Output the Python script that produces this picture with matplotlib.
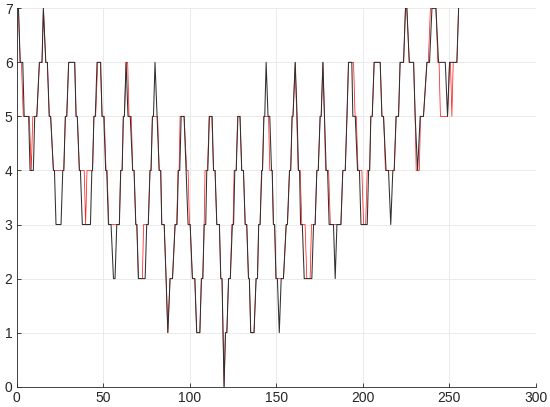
import matplotlib
matplotlib.use("Agg")
import matplotlib.pyplot as plt

# --- data (vertices of the two step traces) ---
black_x = [0, 1, 2, 3.5, 4.3, 6.9, 7.7, 9.6, 10.4, 11.6, 13.1, 14.6, 15.4, 16.8, 17.7,
           18.8, 19.6, 21.2, 21.8, 22.7, 25.6, 26.6, 27.2, 28.1, 28.9, 30, 33.5, 34.3,
           35, 36.2, 36.8, 37.9, 42.6, 43.4, 43.8, 44.6, 45.4, 46.4, 48.5, 49.3, 50.3,
           51.4, 52, 53, 54.5, 55.9, 56.8, 57.8, 59.3, 60.1, 60.9, 61.6, 62.2, 63.2,
           64.3, 65.6, 67, 67.8, 68.8, 69.4, 70.3, 74.2, 75.1, 76, 77, 77.6, 78.4, 79,
           79.9, 82.3, 83.2, 83.8, 85.2, 86.3, 87.3, 88.6, 90, 91.5, 92.6, 93.4, 94.2,
           95, 96.7, 99, 100.2, 101.5, 102.9, 104, 105.8, 106.7, 107.5, 108.3, 109.2,
           109.8, 110.4, 111.3, 112.9, 113.7, 114.6, 115.6, 117.1, 117.9, 118.6, 119.8,
           120.6, 121.4, 122.4, 123.4, 124.6, 125.3, 126, 126.8, 127.8, 129, 130, 131,
           132, 132.9, 133.9, 134.4, 135.2, 137.1, 138.3, 139.1, 139.8, 140.6, 141.6,
           142, 142.8, 143.3, 144.1, 145.2, 146.2, 147.2, 147.6, 148.3, 149, 149.8,
           150.6, 151.7, 152.8, 154.1, 155.7, 156.4, 157.6, 158.3, 159.1, 159.6, 160.9,
           162, 162.8, 163.4, 164, 165, 166.1, 170.5, 171.5, 172.4, 173.4, 174.2, 175.3,
           175.9, 176.9, 177.8, 178.8, 179.6, 180.5, 183, 184, 185, 187.3, 188.4, 189.8,
           190.8, 191.7, 193.6, 194.2, 195.6, 196.9, 198, 198.9, 202.5, 203.3, 203.9,
           204.6, 205.4, 206.5, 210, 211, 211.9, 213.4, 214.8, 216.1, 217.3, 218.1,
           219.2, 220.6, 221.5, 223.5, 224.6, 225.4, 226.8, 229.3, 230.2, 231.6, 233.1,
           235, 237, 238.5, 239.9, 242.2, 243.7, 247.6, 248.9, 250.1, 254.3, 255.3]
black_y = [7, 7, 6, 6, 5, 5, 4, 4, 5, 5, 6, 6, 7, 6, 6,
           5, 5, 4, 4, 3, 3, 4, 4, 5, 5, 6, 6, 5,
           5, 4, 4, 3, 3, 4, 4, 5, 5, 6, 6, 5, 5,
           4, 4, 3, 3, 2, 2, 3, 3, 4, 4, 5, 5, 6,
           5, 5, 4, 4, 3, 3, 2, 2, 3, 3, 4, 4, 5, 5,
           6, 4, 4, 3, 3, 2, 1, 2, 2, 3, 3, 4, 4,
           5, 5, 3, 3, 2, 2, 1, 1, 2, 2, 3, 3,
           4, 4, 5, 5, 4, 4, 3, 3, 2, 2, 0,
           1, 1, 2, 2, 3, 3, 4, 4, 5, 5, 4, 4,
           3, 3, 2, 2, 1, 1, 2, 2, 3, 3, 4,
           4, 5, 5, 6, 5, 5, 4, 4, 3, 3, 2,
           2, 1, 2, 2, 3, 3, 4, 4, 5, 5, 6,
           5, 4, 4, 3, 3, 2, 2, 3, 3, 4, 4, 5,
           5, 6, 5, 4, 4, 3, 3, 2, 3, 3, 4, 4,
           5, 6, 6, 5, 5, 4, 4, 3, 3, 4, 4,
           5, 5, 6, 6, 5, 5, 4, 4, 3, 4, 4,
           5, 5, 6, 6, 7, 7, 6, 6, 5, 4, 5,
           5, 6, 6, 7, 7, 6, 6, 5, 6, 6, 7]

red_x = [0, 1, 2, 2.7, 3.8, 7.3, 8.4, 9.3, 11.6, 13.1, 14.6, 15.4, 16.8, 17.7, 18.8,
         19.6, 21.2, 27.2, 28.1, 28.9, 30, 33.5, 34.3, 35, 36.2, 39, 39.8, 40.6, 43.8,
         44.6, 45.6, 46.8, 48.3, 49.3, 50.6, 51.6, 52.2, 53.2, 59.3, 60, 60.9, 61.6,
         62.2, 63.2, 64.1, 64.9, 66.2, 67, 67.8, 68.8, 69.4, 70.3, 72.6, 73.3, 76, 77,
         77.6, 78.4, 81.4, 82.3, 83.2, 83.8, 85.2, 86.3, 87.3, 88.6, 90, 91.5, 92.4,
         93.2, 93.8, 94.4, 96.7, 98.2, 99, 99.8, 100.2, 101.5, 102.9, 104, 105.8, 106.7,
         107.5, 108.3, 108.8, 110.2, 111.2, 112.7, 113.7, 114.6, 115.6, 117.1, 117.9,
         118.6, 119.8, 120.6, 121.4, 122.4, 123.4, 124.3, 125, 125.6, 126.8, 127.6,
         129, 130, 131, 132, 132.9, 133.9, 134.4, 135.2, 137.1, 138.3, 139.1, 139.8,
         140.6, 141.4, 142, 142.8, 145.5, 146.2, 147.6, 148.3, 149, 149.8, 154.1,
         155.7, 156.4, 157.6, 158.3, 159.1, 159.6, 160.9, 162.6, 163.8, 164.7, 166.6,
         167.6, 169.5, 170.3, 172.4, 173.4, 174.2, 175.3, 175.9, 176.9, 177.8, 178.4,
         180.2, 181.2, 187.3, 188.4, 189.8, 190.8, 191.7, 194.6, 195.5, 196.2, 197.2,
         199.4, 200.4, 201.6, 202.5, 203.9, 204.6, 205.4, 206.5, 210, 211, 212, 213,
         218.1, 219.2, 220.6, 221.5, 223.5, 224.6, 225.4, 226.8, 229.3, 230.2, 230.8,
         232.6, 233.3, 235, 237, 237.8, 239, 242.2, 243.3, 244, 244.8, 248.9, 250,
         250.6, 251.4, 252.2, 254.3, 255.3]
red_y = [7, 7, 6, 6, 5, 5, 4, 5, 5, 6, 6, 7, 6, 6, 5,
         5, 4, 4, 5, 5, 6, 6, 5, 5, 4, 4, 3, 4, 4,
         5, 5, 6, 6, 5, 5, 4, 4, 3, 3, 4, 4, 5,
         5, 6, 6, 5, 5, 4, 4, 3, 3, 2, 2, 3, 3, 4,
         4, 5, 5, 4, 4, 3, 3, 2, 1, 2, 2, 3, 3,
         4, 4, 5, 5, 4, 4, 3, 3, 2, 2, 1, 1, 2,
         2, 3, 4, 4, 5, 5, 4, 4, 3, 3, 2,
         2, 0, 1, 1, 2, 2, 3, 3, 4, 4, 5,
         5, 4, 4, 3, 3, 2, 2, 1, 1, 2, 2, 3,
         3, 4, 4, 5, 5, 4, 4, 3, 3, 2, 2,
         3, 3, 4, 4, 5, 5, 6, 4, 4, 3, 3,
         2, 2, 3, 3, 4, 4, 5, 5, 6, 5, 4,
         4, 3, 3, 4, 4, 5, 6, 6, 5, 5, 4,
         4, 3, 3, 4, 4, 5, 5, 6, 6, 5, 5, 4,
         4, 5, 5, 6, 6, 7, 7, 6, 6, 5, 4,
         4, 5, 5, 6, 6, 7, 7, 6, 6, 5, 5, 6,
         6, 5, 6, 6, 7]

x_ticks = [0, 50, 100, 150, 200, 250, 300]
y_ticks = [0, 1, 2, 3, 4, 5, 6, 7]

plt.rcParams['font.family'] = ['Liberation Sans', 'DejaVu Sans']

fig = plt.figure(figsize=(5.5, 4.07), dpi=100)
ax = fig.add_axes([0.0304, 0.0499, 0.9441, 0.9297])

ax.plot(red_x, red_y, color='#ff2020', linewidth=0.55)
ax.plot(black_x, black_y, color='#303030', linewidth=0.75)

ax.set_xlim(0, 300)
ax.set_ylim(0, 7)
ax.set_xticks(x_ticks)
ax.set_yticks(y_ticks)

# MATLAB-like look: light grid, no box, inward ticks
ax.grid(True, color='#e6e6e6', linewidth=0.6)
ax.set_axisbelow(True)
for side in ['top', 'right']:
    ax.spines[side].set_visible(False)
for side in ['left', 'bottom']:
    ax.spines[side].set_color('#262626')
    ax.spines[side].set_linewidth(0.6)
ax.tick_params(direction='in', length=3, width=0.6, colors='#262626',
               labelsize=10, pad=3)

fig.savefig('out.png', dpi=100)
